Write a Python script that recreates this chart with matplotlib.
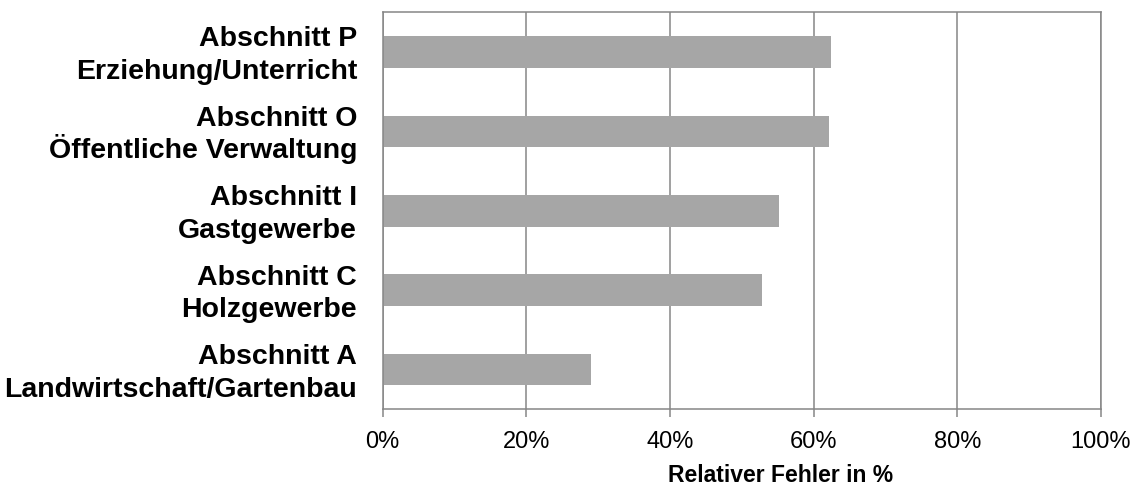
import matplotlib
matplotlib.use("Agg")
import matplotlib.pyplot as plt
from matplotlib.ticker import FuncFormatter

sections = ["Abschnitt A", "Abschnitt C", "Abschnitt I", "Abschnitt O", "Abschnitt P"]
names = [
    "Landwirtschaft/Gartenbau",
    "Holzgewerbe",
    "Gastgewerbe",
    "Öffentliche Verwaltung",
    "Erziehung/Unterricht",
]
values = [29.0, 52.8, 55.2, 62.1, 62.4]
xticks = [0, 20, 40, 60, 80, 100]
xlabel = "Relativer Fehler in %"

plt.rcParams['font.family'] = ['Liberation Sans', 'DejaVu Sans']

W, H = 1144, 488
fig = plt.figure(figsize=(W / 100, H / 100), dpi=100)
ax = fig.add_axes([382.7 / W, 1 - 409.3 / H, (1101 - 382.7) / W, (409.3 - 12.3) / H])

grid_col = "#868686"
ax.barh(range(len(sections)), values, height=0.4, color="#A6A6A6", zorder=3)
ax.set_xlim(0, 100)
ax.set_ylim(-0.5, len(sections) - 0.5)
ax.set_xticks(xticks)
ax.xaxis.set_major_formatter(FuncFormatter(lambda v, p: f"{int(v)}%"))
ax.set_yticks([])
ax.tick_params(axis="x", length=5.5, width=1.1, color=grid_col, labelsize=17, pad=10)
ax.xaxis.grid(True, color=grid_col, linewidth=1.1, zorder=1)
for s in ax.spines.values():
    s.set_color(grid_col)
    s.set_linewidth(1.1)
    s.set_zorder(4)

for i, (sec, nm) in enumerate(zip(sections, names)):
    for txt, dy in ((sec, 4.0), (nm, -19.5)):
        ax.annotate(txt, xy=(0, i), xycoords=("axes fraction", "data"),
                    xytext=(-18.5, dy), textcoords="offset points",
                    ha="right", va="baseline", fontsize=20.5, fontweight="bold",
                    annotation_clip=False)

fig.text(781 / W, 1 - 475 / H, xlabel, fontsize=16.5, fontweight="bold", ha="center", va="center")

fig.savefig("out.png", dpi=100)
